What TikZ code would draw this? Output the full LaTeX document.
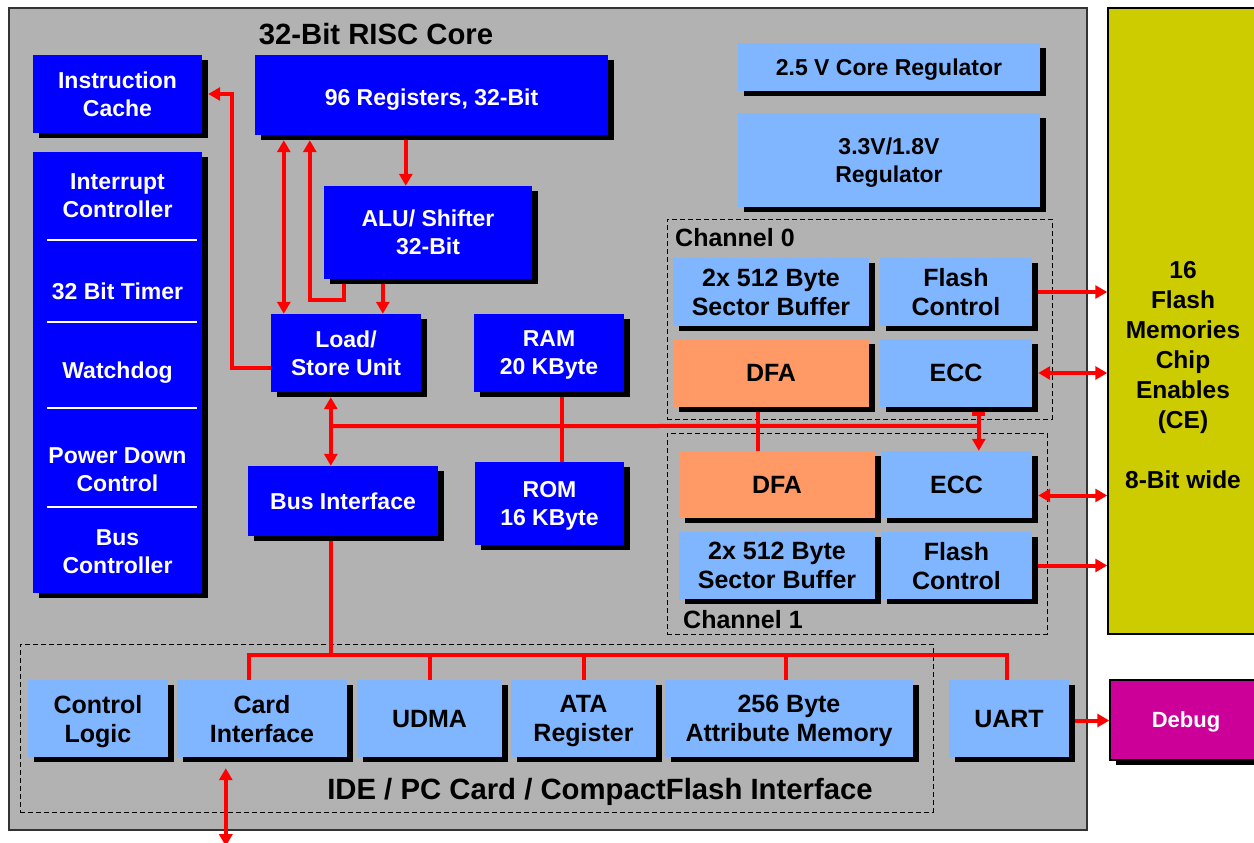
\documentclass[tikz,border=0pt]{standalone}
\usepackage{fontspec}
\setmainfont{Liberation Sans}
\usetikzlibrary{arrows.meta,positioning,shadows,calc}

\definecolor{chipgray}{HTML}{B2B2B2}
\definecolor{cpublue}{HTML}{0000FF}
\definecolor{periblue}{HTML}{80B6FF}
\definecolor{dfaorange}{HTML}{FF9966}
\definecolor{flashyellow}{HTML}{CCCC00}
\definecolor{debugpink}{HTML}{CC0099}

\begin{document}
\begin{tikzpicture}[x=1pt,y=-1pt,
  >={Triangle[width=13pt,length=12pt]},
  dims/.style 2 args={minimum width=#1pt,minimum height=#2pt},
  shadebox/.style={drop shadow={shadow xshift=6pt,shadow yshift=-5pt,fill=black,opacity=1}},
  coretext/.style={text=white,align=center,font=\bfseries\fontsize{23}{28}\selectfont},
  core/.style={coretext,shadebox,fill=cpublue,inner sep=0pt,text depth=0pt},
  periph/.style={shadebox,fill=periblue,text=black,inner sep=0pt,align=center,text depth=0pt,
    font=\bfseries\fontsize{25}{29}\selectfont},
  dfa/.style={periph,fill=dfaorange},
  group/.style={draw=black,dashed,dash pattern=on 5pt off 3pt,line width=1pt,inner sep=0pt},
  label/.style={font=\bfseries\fontsize{25}{29}\selectfont,inner sep=0pt},
  bus/.style={draw=red,line width=4pt},
  sepline/.style={draw=white,line width=2pt}]
\useasboundingbox (0,0) rectangle (1254,843);

% chip outline
\node[draw=black!80,fill=chipgray,line width=1.2pt,dims={1078}{822}] (chip) at (548,419) {};
\node[font=\bfseries\fontsize{29.3}{31}\selectfont] (title) at (376,34) {32-Bit RISC Core};

% groups
\node[group,dims={385}{200}] (chan0) at (859.5,319) {};
\node[group,dims={380}{201}] (chan1) at (857,533.5) {};
\node[group,dims={913}{168}] (ide) at (476.5,728) {};
\node[label,anchor=west] (chan0lbl) at (675,238) {Channel 0};
\node[label,anchor=west] (chan1lbl) at (683,620) {Channel 1};
\node[font=\bfseries\fontsize{29.3}{31}\selectfont] (idelbl) at (600,792) {IDE / PC Card / CompactFlash Interface};

% RISC core
\node[core,dims={169}{78}] (icache) at (117.5,94) {Instruction\\Cache};
\node[core,dims={353}{80},text height=21pt] (regs) at (431.5,95) {96 Registers, 32-Bit};
\node[core,dims={208}{93}] (alu) at (428,232.5) {ALU/ Shifter\\32-Bit};
\node[core,dims={150}{78}] (lsu) at (346,353) {Load/\\Store Unit};
\node[core,dims={150}{78}] (ram) at (549,353) {RAM\\20 KByte};
\node[core,dims={190}{70}] (busif) at (343,501) {Bus Interface};
\node[core,dims={149}{83}] (rom) at (549.5,503.5) {ROM\\16 KByte};

% peripheral stack
\node[core,dims={169}{441}] (stack) at (117.5,372.5) {};
\node[coretext] (irq) at ($(stack.north)+(0,44)$) {Interrupt\\Controller};
\node[coretext] (timer) at ($(stack.north)+(0,139)$) {32 Bit Timer};
\node[coretext] (wdog) at ($(stack.north)+(0,221)$) {Watchdog};
\node[coretext] (pwrdown) at ($(stack.north)+(0,318)$) {Power Down\\Control};
\node[coretext] (busctl) at ($(stack.north)+(0,400)$) {Bus\\Controller};
\foreach \y in {88,170,256,355}
  \draw[sepline] ($(stack.north west)+(14,\y)$) -- ++(150,0);

% regulators
\node[periph,dims={302}{48},font=\bfseries\fontsize{23}{28}\selectfont] (reg25) at (889,67) {2.5 V Core Regulator};
\node[periph,dims={302}{94},font=\bfseries\fontsize{23}{28}\selectfont] (reg33) at (889,160) {3.3V/1.8V\\Regulator};

% channel 0
\node[periph,dims={196}{68}] (sbuf0) at (771,292) {2x 512 Byte\\Sector Buffer};
\node[periph,dims={152}{68}] (fctl0) at (956,292) {Flash\\Control};
\node[dfa,dims={196}{68}] (dfa0) at (771,373) {DFA};
\node[periph,dims={152}{68}] (ecc0) at (956,373) {ECC};

% channel 1
\node[dfa,dims={196}{67}] (dfa1) at (777,484.5) {DFA};
\node[periph,dims={151}{67}] (ecc1) at (956.5,484.5) {ECC};
\node[periph,dims={196}{67}] (sbuf1) at (777,565.5) {2x 512 Byte\\Sector Buffer};
\node[periph,dims={151}{67}] (fctl1) at (956.5,565.5) {Flash\\Control};

% host interface
\node[periph,dims={140}{77}] (ctrl) at (98,718.5) {Control\\Logic};
\node[periph,dims={170}{77}] (card) at (262,718.5) {Card\\Interface};
\node[periph,dims={145}{77}] (udma) at (429.5,718.5) {UDMA};
\node[periph,dims={145}{77}] (ata) at (583.5,718.5) {ATA\\Register};
\node[periph,dims={248}{77}] (attr) at (789,718.5) {256 Byte\\Attribute Memory};
\node[periph,dims={120}{77}] (uart) at (1009,718.5) {UART};

% outside
\node[draw=black,line width=1.5pt,fill=flashyellow,dims={154}{626}] (flash) at (1185,321) {};
\node[align=center,font=\bfseries\fontsize{24.5}{30}\selectfont] (flashtxt) at (1183,375)
  {16\\Flash\\Memories\\Chip\\Enables\\(CE)\\[30pt]8-Bit wide};
\node[draw=black,line width=1.5pt,shadebox,fill=debugpink,text=white,dims={152}{80},text depth=0pt,
  font=\bfseries\fontsize{22}{26}\selectfont] (debug) at (1186,720) {Debug};

% core connections
\draw[bus,->] ([yshift=-15pt]lsu.west) -| ([xshift=30pt]icache.east) -- ([xshift=6pt]icache.east);
\draw[bus,<->] ($(lsu.north west)+(13,0)$) -- ($(lsu.north west |- regs.south)+(13,5)$);
\draw[bus,->] ($(alu.south west)+(20,5)$) -- ++(0,16) -| ($(regs.south west)+(55,5)$);
\draw[bus,->] ($(regs.south west)+(151,5)$) -- ($(alu.north west)+(82,0)$);
\draw[bus,->] ($(alu.south west)+(59,5)$) -- ($(lsu.north west)+(112,0)$);
\draw[bus,<->] ($(lsu.south west)+(60,5)$) -- ($(busif.north west)+(83,0)$);

% internal bus
\coordinate (hub) at ($(lsu.south west)+(60,34)$);
\coordinate (eccjoin) at ($(ecc1.north west)+(98,-25)$);
\draw[bus] (hub) -- (eccjoin);
\draw[bus,{Bar[width=13pt]}->] ($(ecc0.south west)+(99,5)$) -- ($(ecc1.north west)+(98,0)$);
\draw[bus] ($(ram.south west)+(88,5)$) -- ($(rom.north west)+(87,0)$);
\draw[bus] ($(dfa0.south west)+(85,5)$) -- ($(dfa1.north west)+(79,0)$);

% flash side
\draw[bus,->] ([xshift=6pt]fctl0.east) -- (fctl0.east -| flash.west);
\draw[bus,<->] ([xshift=6pt]ecc0.east) -- (ecc0.east -| flash.west);
\draw[bus,<->] ([xshift=6pt,yshift=-11pt]ecc1.east) -- ([yshift=-11pt]ecc1.east -| flash.west);
\draw[bus,->] ([xshift=6pt]fctl1.east) -- (fctl1.east -| flash.west);

% host bus
\coordinate (busjoin) at ($(busif.south west)+(83,119)$);
\draw[bus] ($(busif.south west)+(83,5)$) -- (busjoin);
\draw[bus] ($(card.north west)+(72,0)$) |- ($(uart.north west)+(58,-25)$) -- ($(uart.north west)+(58,0)$);
\draw[bus] (udma.north) -- ++(0,-25);
\draw[bus] (ata.north) -- ++(0,-25);
\draw[bus] ($(attr.north)+(-3,0)$) -- ++(0,-25);
\draw[bus,<->] ($(card.south west)+(49,11)$) -- ++(0,78);
\draw[bus,->] ([xshift=6pt,yshift=-2pt]uart.east) -- ([yshift=-2pt]uart.east -| debug.west);
\end{tikzpicture}
\end{document}
